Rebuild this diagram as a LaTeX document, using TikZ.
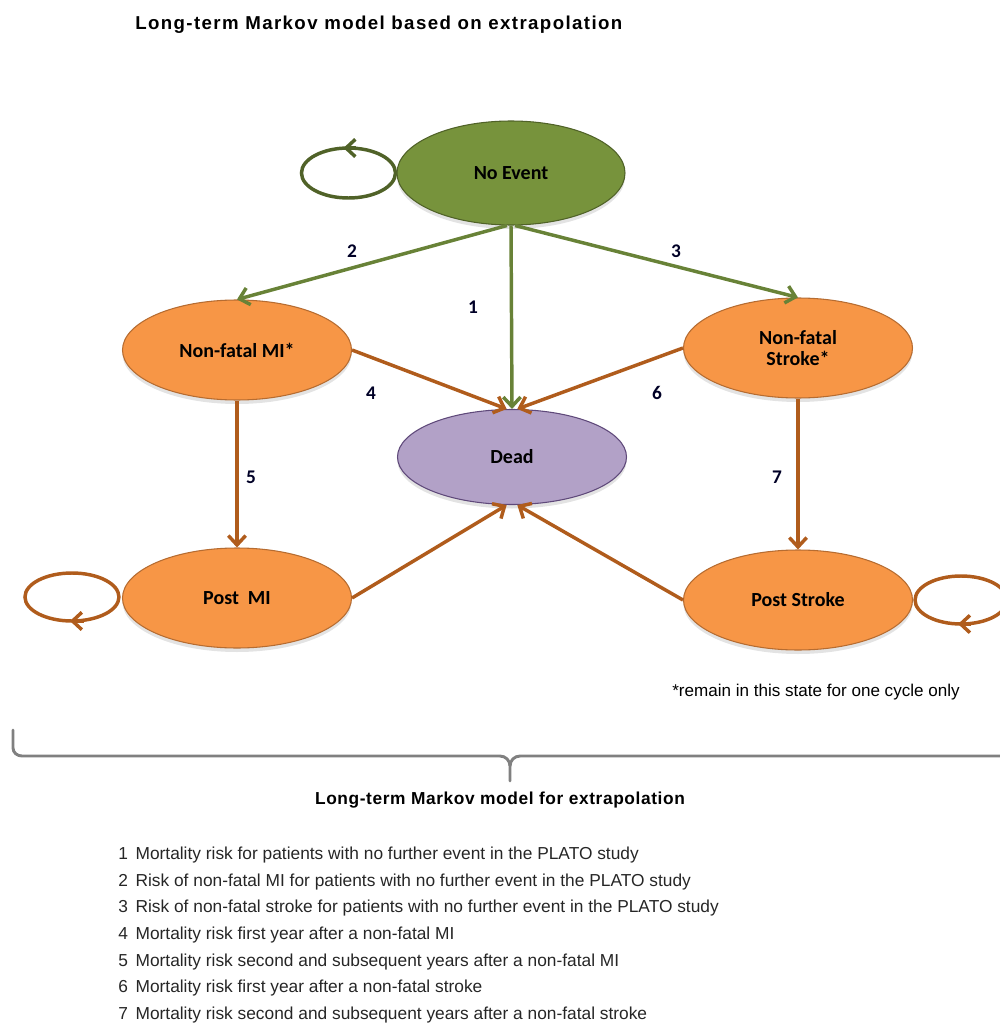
\documentclass[tikz,border=0pt]{standalone}
\usepackage{fontspec}
\setmainfont{Liberation Sans}
\newfontfamily\calibri{Carlito}
\newfontfamily\titlefont[LetterSpace=7.5]{Liberation Sans}
\newfontfamily\bracefont[LetterSpace=3.5]{Liberation Sans}
\usetikzlibrary{shapes.geometric,arrows.meta,calc,shadows}

\definecolor{evgreen}{RGB}{119,147,60}
\definecolor{evgreenline}{RGB}{80,98,40}
\definecolor{stateorange}{RGB}{247,150,70}
\definecolor{orangeline}{RGB}{182,108,49}
\definecolor{deadpurple}{RGB}{178,161,199}
\definecolor{purpleline}{RGB}{95,73,122}
\definecolor{greenarrow}{RGB}{104,130,55}
\definecolor{brownarrow}{RGB}{176,92,28}
\definecolor{bracegray}{RGB}{128,128,128}

\tikzset{
  state/.style={ellipse, minimum width=171.75pt, minimum height=75pt, inner sep=0pt,
    align=center, line width=0.8pt,
    font=\calibri\bfseries\fontsize{15}{17}\selectfont,
    drop shadow={shadow xshift=0pt, shadow yshift=-3pt, opacity=0.22}},
  greenstate/.style={state, fill=evgreen, draw=evgreenline},
  orangestate/.style={state, fill=stateorange, draw=orangeline},
  deadstate/.style={state, fill=deadpurple, draw=purpleline},
  tip/.style={-{Straight Barb[length=7pt,width=13pt]}},
  greenlink/.style={tip, draw=greenarrow, line width=2.6pt},
  brownlink/.style={tip, draw=brownarrow, line width=2.6pt},
  looplink/.style={line width=2.6pt},
  numlabel/.style={font=\calibri\bfseries\fontsize{14.5}{16}\selectfont, text=black!85!blue},
  legend/.style={anchor=west, inner sep=0pt, font=\fontsize{13}{15}\selectfont, text=black!85},
}

\begin{document}
\begin{tikzpicture}[x=0.75pt, y=-0.75pt]
\useasboundingbox (0,0) rectangle (999,1023);

% title
\node[anchor=west, inner sep=0pt, font=\titlefont\bfseries\fontsize{14}{16}\selectfont] (title) at (135,25)
  {Long-term Markov model based on extrapolation};

% states
\node[greenstate, minimum width=171pt, minimum height=78pt] (noevent) at (511,173) {No Event};
\node[orangestate] (mi) at (237,350) {Non-fatal MI*};
\node[orangestate] (stroke) at (798,348) {Non-fatal\\[-1pt]Stroke*};
\node[deadstate, minimum height=71.25pt] (dead) at (512,457) {Dead};
\node[orangestate] (postmi) at (237,598) {Post\ \ MI};
\node[orangestate] (poststroke) at (798,600) {Post Stroke};

% transitions out of No Event
\draw[greenlink] (noevent.south) -- (dead.north);
\draw[greenlink] ([xshift=-3pt]noevent.south) -- (mi.north);
\draw[greenlink] ([xshift=3pt]noevent.south) -- (stroke.north);

% transitions from the event states
\draw[brownlink] (mi.east) -- ([xshift=-4pt]dead.north);
\draw[brownlink] (stroke.west) -- ([xshift=4pt]dead.north);
\draw[brownlink] (mi.south) -- (postmi.north);
\draw[brownlink] (stroke.south) -- (poststroke.north);
\draw[brownlink] (postmi.east) -- ([xshift=-4pt]dead.south);
\draw[brownlink] (poststroke.west) -- ([xshift=4pt]dead.south);

% self loops
\coordinate (neloop) at ($(noevent.west)+(-48,0)$);
\draw[looplink, draw=evgreenline] (neloop) ellipse [x radius=35.25pt, y radius=18.75pt];
\draw[looplink, draw=evgreenline, tip] ($(neloop)+(8,-25)$) -- ($(neloop)+(-5,-25)$);

\coordinate (pmloop) at ($(postmi.west)+(-50,-1)$);
\draw[looplink, draw=brownarrow] (pmloop) ellipse [x radius=35.25pt, y radius=18pt];
\draw[looplink, draw=brownarrow, tip] ($(pmloop)+(12,24)$) -- ($(pmloop)+(-2,24)$);

\coordinate (psloop) at ($(poststroke.east)+(48,0)$);
\draw[looplink, draw=brownarrow] (psloop) ellipse [x radius=34.5pt, y radius=18pt];
\draw[looplink, draw=brownarrow, tip] ($(psloop)+(10,24)$) -- ($(psloop)+(-3,24)$);

% transition numbers
\node[numlabel] (n1) at (473,307) {1};
\node[numlabel] (n2) at (352,251) {2};
\node[numlabel] (n3) at (676,251) {3};
\node[numlabel] (n4) at (371,393) {4};
\node[numlabel] (n5) at (251,477) {5};
\node[numlabel] (n6) at (657,393) {6};
\node[numlabel] (n7) at (777,477) {7};

% footnote
\node[anchor=west, inner sep=0pt, font=\fontsize{12.8}{14}\selectfont] (foot) at (672,692)
  {*remain in this state for one cycle only};

% brace
\draw[draw=bracegray, line width=2.2pt, line cap=round, line join=round]
  (13,730) -- (13,748) to[out=-90,in=180] (22,756) -- (500,756)
  to[out=0,in=90] (510,766) -- (510,781);
\draw[draw=bracegray, line width=2.2pt, line join=round]
  (510,766) to[out=90,in=180] (520,756) -- (1005,756);

\node[inner sep=0pt, font=\bracefont\bfseries\fontsize{13}{15}\selectfont] (bracetext) at (500,800)
  {Long-term Markov model for extrapolation};

% legend
\foreach \t [count=\i] in {
  {Mortality risk for patients with no further event in the PLATO study},
  {Risk of non-fatal MI for patients with no further event in the PLATO study},
  {Risk of non-fatal stroke for patients with no further event in the PLATO study},
  {Mortality risk first year after a non-fatal MI},
  {Mortality risk second and subsequent years after a non-fatal MI},
  {Mortality risk first year after a non-fatal stroke},
  {Mortality risk second and subsequent years after a non-fatal stroke}}
  \node[legend] (leg\i) at (118,{855+26.7*(\i-1)}) {\makebox[13pt][l]{\i}\t};
\end{tikzpicture}
\end{document}
